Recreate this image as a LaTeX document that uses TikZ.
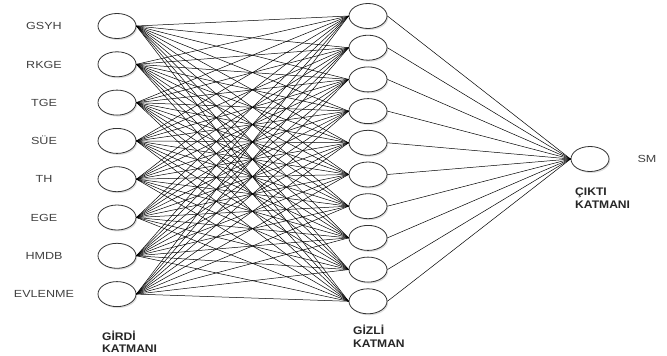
\documentclass[tikz,border=0pt]{standalone}
\usepackage{fontspec}
\setmainfont{Liberation Sans}
\newfontfamily\varfont[FakeStretch=1.22]{Liberation Sans}
\newfontfamily\layerfont[FakeStretch=1.1]{Liberation Sans}
\usetikzlibrary{positioning, shapes.geometric, shadows}

\begin{document}
\begin{tikzpicture}[x=1pt, y=-1pt]

  % --- 定義樣式 ---
  \tikzset{
    % 神經元:白底橢圓,帶淡陰影
    neuron/.style={
      ellipse,
      draw=black!80,
      line width=0.8pt,
      fill=white,
      minimum width=38pt,
      minimum height=25pt,
      inner sep=0pt,
      drop shadow={opacity=0.25, shadow xshift=1.2pt, shadow yshift=-1.5pt}
    },
    % 變數名稱
    varname/.style={
      font=\varfont\fontsize{10.3}{12}\selectfont,
      text=black!75,
      text height=7.4pt,
      text depth=0pt,
      inner sep=0pt
    },
    % 層名稱:粗體、兩行、靠左
    layername/.style={
      font=\layerfont\bfseries\fontsize{11}{12.4}\selectfont,
      text=black!85,
      align=left,
      anchor=north west,
      inner sep=0pt
    },
    % 神經元之間的連線
    synapse/.style={
      draw=black,
      line width=0.5pt
    }
  }

  % 固定畫面大小
  \useasboundingbox (0,0) rectangle (667,356);

  % --- 繪製三層神經元 ---

  % 1. 輸入層 (8 個)
  \foreach \name [count=\i] in {GSYH, RKGE, TGE, SÜE, TH, EGE, HMDB, EVLENME} {
    \pgfmathsetmacro{\y}{26+38.3*(\i-1)}
    \node[neuron] (in\i) at (117,\y) {};
    \node[varname] (var\i) at (44,\y) {\name};
  }

  % 2. 隱藏層 (10 個)
  \foreach \j in {1,...,10} {
    \pgfmathsetmacro{\y}{16+31.7*(\j-1)}
    \node[neuron] (hid\j) at (368,\y) {};
  }

  % 3. 輸出層
  \node[neuron] (out) at (590,159) {};
  \node[varname, right=28pt of out] (sm) {SM};

  % --- 繪製連線 ---
  \foreach \i in {1,...,8}
    \foreach \j in {1,...,10}
      \draw[synapse] (in\i.east) -- (hid\j.west);

  \foreach \j in {1,...,10}
    \draw[synapse] (hid\j.east) -- (out.west);

  % --- 層名稱 ---
  \node[layername] (inlayer) at (102,330.5) {GİRDİ\\KATMANI};
  \node[layername] (hidlayer) at (353,325) {GİZLİ\\KATMAN};
  \node[layername] (outlayer) at (575,188) {ÇIKTI\\KATMANI};

\end{tikzpicture}
\end{document}
